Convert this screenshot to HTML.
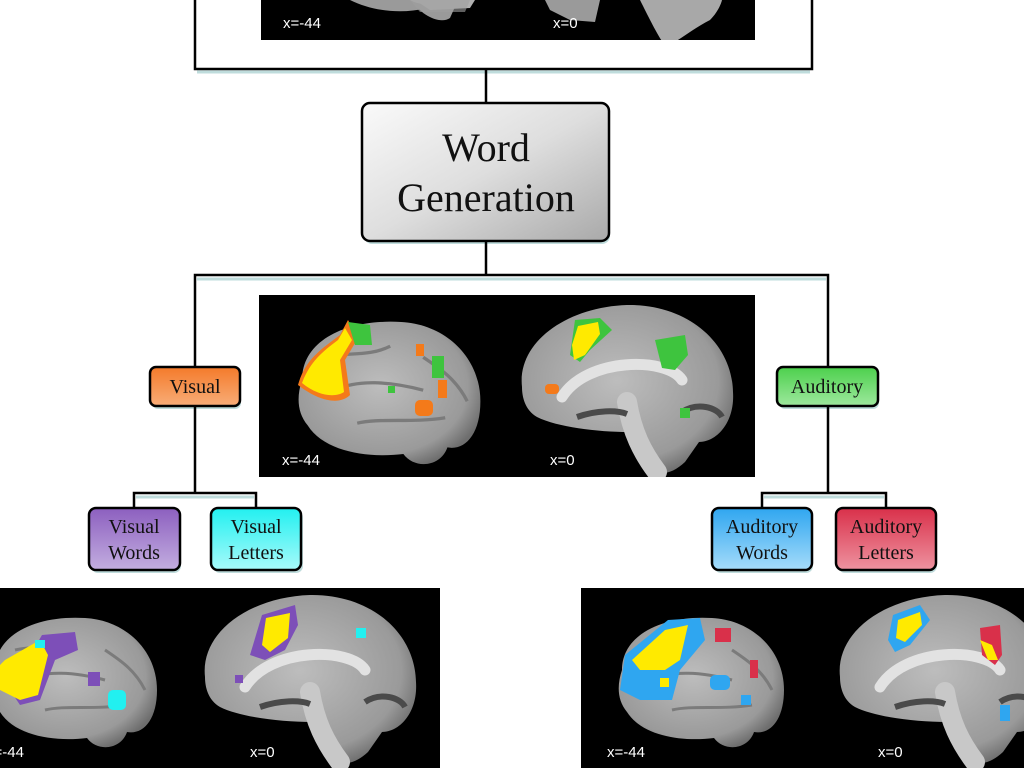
<!DOCTYPE html>
<html><head><meta charset="utf-8"><style>
html,body{margin:0;padding:0;background:#fff;width:1024px;height:768px;overflow:hidden}
svg{display:block}
.lab{font-family:"Liberation Sans",sans-serif;font-size:15px;fill:#fff}
.bt{font-family:"Liberation Serif",serif;fill:#111;text-anchor:middle}
</style></head><body>
<svg width="1024" height="768" viewBox="0 0 1024 768" xmlns="http://www.w3.org/2000/svg">
<defs>
<clipPath id="cTop"><rect x="261" y="0" width="494" height="40"/></clipPath>
<clipPath id="cMid"><rect x="259" y="295" width="496" height="182"/></clipPath>
<clipPath id="cBL"><rect x="0" y="588" width="440" height="180"/></clipPath>
<clipPath id="cBR"><rect x="581" y="588" width="443" height="180"/></clipPath>
<linearGradient id="gw" x1="0" y1="0" x2="1" y2="1"><stop offset="0" stop-color="#fafafa"/><stop offset="0.5" stop-color="#dedede"/><stop offset="1" stop-color="#a9a9a9"/></linearGradient>
<linearGradient id="go" x1="0" y1="0" x2="0" y2="1"><stop offset="0" stop-color="#f47a2a"/><stop offset="1" stop-color="#f8ad78"/></linearGradient>
<linearGradient id="gg" x1="0" y1="0" x2="0" y2="1"><stop offset="0" stop-color="#4cd04c"/><stop offset="1" stop-color="#9ee89e"/></linearGradient>
<linearGradient id="gp" x1="0" y1="0" x2="0" y2="1"><stop offset="0" stop-color="#8c5fbf"/><stop offset="1" stop-color="#c3aee0"/></linearGradient>
<linearGradient id="gc" x1="0" y1="0" x2="0" y2="1"><stop offset="0" stop-color="#22f0f0"/><stop offset="1" stop-color="#a8fafa"/></linearGradient>
<linearGradient id="gb" x1="0" y1="0" x2="0" y2="1"><stop offset="0" stop-color="#2fa6f0"/><stop offset="1" stop-color="#a6dcfa"/></linearGradient>
<linearGradient id="gr" x1="0" y1="0" x2="0" y2="1"><stop offset="0" stop-color="#d9304a"/><stop offset="1" stop-color="#ee93a0"/></linearGradient>
<radialGradient id="brain" cx="0.45" cy="0.45" r="0.6"><stop offset="0" stop-color="#bdbdbd"/><stop offset="0.8" stop-color="#9a9a9a"/><stop offset="1" stop-color="#6e6e6e"/></radialGradient>
<g id="lat">
<path d="M10,60 C10,25 50,5 100,8 C140,10 172,40 172,80 C172,110 158,125 142,122 C136,140 112,142 102,128 C70,132 30,126 15,102 C5,90 5,75 10,60Z" fill="url(#brain)"/>
<path d="M40,70 C60,60 90,62 120,70 M30,40 C50,35 70,40 90,30 M60,100 C80,95 110,100 140,95 M120,40 C135,50 150,60 160,80" stroke="#7b7b7b" stroke-width="3" fill="none"/>
</g>
<g id="med">
<path d="M5,85 C0,40 50,5 110,3 C170,2 215,40 216,90 C218,120 200,140 182,140 L168,160 C152,175 136,175 126,160 L112,130 C80,130 40,125 20,115 C8,108 5,95 5,85Z" fill="url(#brain)"/>
<path d="M45,95 C70,55 150,55 165,78" stroke="#e2e2e2" stroke-width="11" fill="none" stroke-linecap="round"/>
<path d="M110,100 C115,130 125,150 140,170" stroke="#c8c8c8" stroke-width="20" fill="none" stroke-linecap="round"/>
<path d="M60,115 C80,108 100,108 110,112 M165,110 C180,100 200,105 205,115" stroke="#4a4a4a" stroke-width="6" fill="none"/>
</g>
</defs>

<!-- top frame and panel -->
<rect x="261" y="0" width="494" height="40" fill="#000"/>
<g clip-path="url(#cTop)">
<path d="M350,0 C380,15 420,15 450,0Z" fill="#9a9a9a"/>
<path d="M412,0 C420,15 440,25 450,18 L458,0Z" fill="#9a9a9a"/>
<path d="M410,0 C420,6 440,6 448,0Z M415,0 L430,10 L470,8 L475,0Z" fill="#b0b0b0"/>
<path d="M410,0 L470,0 L465,12 L420,12Z" fill="#a0a0a0" opacity="0.6"/>
<path d="M545,0 L600,0 L595,22 L570,20 L550,10Z" fill="#9a9a9a"/>
<path d="M640,0 C650,20 660,40 665,45 C675,45 690,30 710,20 C720,10 722,0 722,0Z" fill="#a8a8a8"/>
</g>
<text class="lab" x="283" y="28">x=-44</text>
<text class="lab" x="553" y="28">x=0</text>
<path d="M195,0 V69 H812 V0" fill="none" stroke="#000" stroke-width="2.5"/>
<line x1="197" y1="72" x2="810" y2="72" stroke="#bfdcdc" stroke-width="3"/>
<line x1="486" y1="69" x2="486" y2="103" stroke="#000" stroke-width="2.5"/>

<!-- Word Generation -->
<rect x="364" y="106" width="246" height="138" rx="8" fill="#bfdcdc"/>
<rect x="362" y="103" width="247" height="138" rx="8" fill="url(#gw)" stroke="#000" stroke-width="2.5"/>
<text class="bt" x="486" y="161" font-size="40">Word</text>
<text class="bt" x="486" y="211" font-size="40">Generation</text>
<line x1="486" y1="242" x2="486" y2="275" stroke="#000" stroke-width="2.5"/>
<path d="M195,367 V275 H828 V367" fill="none" stroke="#000" stroke-width="2.5"/>
<line x1="197" y1="279" x2="826" y2="279" stroke="#bfdcdc" stroke-width="3"/>

<!-- middle panel -->
<rect x="259" y="295" width="496" height="182" fill="#000"/>
<g clip-path="url(#cMid)">
<use href="#lat" x="292" y="312" transform="translate(-30,-30) scale(1.1)" />
<use href="#med" x="517" y="302"/>
</g>
<path d="M298,385 C305,360 320,350 340,335 L348,320 L358,338 L345,360 L350,395 C340,405 320,402 298,385Z" fill="#f47a1a"/>
<path d="M302,383 C310,362 322,352 338,340 L345,328 L352,340 L340,360 L344,392 C335,398 318,396 302,383Z" fill="#ffea00"/>
<path d="M348,322 L370,325 L372,345 L355,345Z" fill="#3ec43e"/>
<rect x="432" y="356" width="12" height="22" fill="#3ec43e"/>
<rect x="438" y="380" width="9" height="18" fill="#f47a1a"/>
<rect x="415" y="400" width="18" height="16" fill="#f47a1a" rx="5"/>
<rect x="416" y="344" width="8" height="12" fill="#f47a1a"/>
<rect x="388" y="386" width="7" height="7" fill="#3ec43e"/>
<path d="M575,320 L600,318 L612,330 L590,350 L580,362 L570,355Z" fill="#3ec43e"/>
<path d="M578,326 L598,322 L600,334 L585,355 L574,360 L572,345Z" fill="#ffea00"/>
<path d="M655,340 L685,335 L688,355 L675,370 L662,368Z" fill="#3ec43e"/>
<rect x="545" y="384" width="14" height="10" rx="4" fill="#f47a1a"/>
<rect x="680" y="408" width="10" height="10" fill="#3ec43e"/>
<text class="lab" x="282" y="465">x=-44</text>
<text class="lab" x="550" y="465">x=0</text>

<!-- Visual / Auditory -->
<rect x="152" y="370" width="89" height="39" rx="6" fill="#bfdcdc"/>
<rect x="150" y="367" width="90" height="39" rx="6" fill="url(#go)" stroke="#000" stroke-width="2.5"/>
<text class="bt" x="195" y="393" font-size="20">Visual</text>
<rect x="779" y="370" width="100" height="39" rx="6" fill="#bfdcdc"/>
<rect x="777" y="367" width="101" height="39" rx="6" fill="url(#gg)" stroke="#000" stroke-width="2.5"/>
<text class="bt" x="827" y="393" font-size="20">Auditory</text>

<path d="M195,406 V493 M134,508 V493 H256 V508" fill="none" stroke="#000" stroke-width="2.5"/>
<line x1="136" y1="497" x2="254" y2="497" stroke="#bfdcdc" stroke-width="3"/>
<path d="M828,406 V493 M762,508 V493 H886 V508" fill="none" stroke="#000" stroke-width="2.5"/>
<line x1="764" y1="497" x2="884" y2="497" stroke="#bfdcdc" stroke-width="3"/>

<!-- sub boxes -->
<g font-size="20">
<rect x="91" y="511" width="90" height="62" rx="7" fill="#bfdcdc"/>
<rect x="89" y="508" width="91" height="62" rx="7" fill="url(#gp)" stroke="#000" stroke-width="2.5"/>
<text class="bt" x="134" y="533">Visual</text><text class="bt" x="134" y="559">Words</text>
<rect x="213" y="511" width="90" height="62" rx="7" fill="#bfdcdc"/>
<rect x="211" y="508" width="90" height="62" rx="7" fill="url(#gc)" stroke="#000" stroke-width="2.5"/>
<text class="bt" x="256" y="533">Visual</text><text class="bt" x="256" y="559">Letters</text>
<rect x="714" y="511" width="99" height="62" rx="7" fill="#bfdcdc"/>
<rect x="712" y="508" width="100" height="62" rx="7" fill="url(#gb)" stroke="#000" stroke-width="2.5"/>
<text class="bt" x="762" y="533">Auditory</text><text class="bt" x="762" y="559">Words</text>
<rect x="838" y="511" width="99" height="62" rx="7" fill="#bfdcdc"/>
<rect x="836" y="508" width="100" height="62" rx="7" fill="url(#gr)" stroke="#000" stroke-width="2.5"/>
<text class="bt" x="886" y="533">Auditory</text><text class="bt" x="886" y="559">Letters</text>
</g>

<!-- bottom left panel -->
<rect x="0" y="588" width="440" height="180" fill="#000"/>
<g clip-path="url(#cBL)">
<use href="#lat" x="-15" y="610"/>
<use href="#med" x="200" y="592"/>
</g>
<path d="M42,635 L75,632 L78,650 L55,660 L40,700 L20,705 L10,690Z" fill="#7d4fb8"/>
<path d="M5,660 L40,640 L48,655 L38,695 L20,700 L0,690 L0,665Z" fill="#ffea00"/>
<rect x="35" y="640" width="10" height="8" fill="#22f0f0"/>
<rect x="88" y="672" width="12" height="14" fill="#7d4fb8"/>
<rect x="108" y="690" width="18" height="20" rx="5" fill="#22f0f0"/>
<path d="M262,615 L295,605 L298,625 L285,650 L265,660 L250,655Z" fill="#7d4fb8"/>
<path d="M266,618 L290,613 L288,638 L270,652 L262,645Z" fill="#ffea00"/>
<rect x="356" y="628" width="10" height="10" fill="#22f0f0"/>
<rect x="235" y="675" width="8" height="8" fill="#7d4fb8"/>
<text class="lab" x="-14" y="757">x=-44</text>
<text class="lab" x="250" y="757">x=0</text>

<!-- bottom right panel -->
<rect x="581" y="588" width="443" height="180" fill="#000"/>
<g clip-path="url(#cBR)">
<use href="#lat" x="612" y="610"/>
<use href="#med" x="835" y="592"/>
</g>
<path d="M625,655 L668,620 L700,618 L705,640 L680,670 L672,700 L640,700 L620,690Z" fill="#2fa6f0"/>
<path d="M632,660 L665,630 L688,625 L680,660 L665,670 L640,670Z" fill="#ffea00"/>
<rect x="660" y="678" width="9" height="9" fill="#ffea00"/>
<rect x="715" y="628" width="16" height="14" fill="#d9304a"/>
<rect x="750" y="660" width="8" height="18" fill="#d9304a"/>
<rect x="710" y="675" width="20" height="15" rx="5" fill="#2fa6f0"/>
<rect x="741" y="695" width="10" height="10" fill="#2fa6f0"/>
<path d="M893,615 L920,605 L930,620 L910,645 L895,652 L888,640Z" fill="#2fa6f0"/>
<path d="M898,620 L920,612 L922,625 L905,642 L896,638Z" fill="#ffea00"/>
<path d="M980,628 L1000,625 L1002,655 L995,665 L982,655Z" fill="#d9304a"/>
<path d="M980,640 L992,645 L998,660 L988,660Z" fill="#ffea00"/>
<rect x="1000" y="705" width="10" height="16" fill="#2fa6f0"/>
<text class="lab" x="607" y="757">x=-44</text>
<text class="lab" x="878" y="757">x=0</text>
</svg>
</body></html>
